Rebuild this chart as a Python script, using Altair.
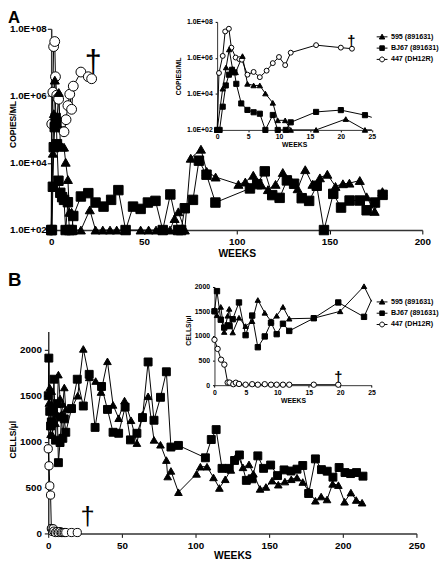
import altair as alt
import pandas as pd

FONT = "Liberation Sans"
SERIES = ["595 (891631)", "BJ67 (891631)", "447 (DH12R)"]
SHAPES = ["triangle-up", "square", "circle"]
FILLS = ["black", "black", "white"]
STROKES = ["black", "black", "black"]
LEGEND_SYMBOLS = [
    "M-1,0H1M0,-0.5L0.5,0.4L-0.5,0.4Z",
    "M-1,0H1M-0.42,-0.42H0.42V0.42H-0.42Z",
    "M-1,0H-0.45M0.45,0H1M0.45,0A0.45,0.45 0 1,1 -0.45,0A0.45,0.45 0 1,1 0.45,0Z",
]

# ---------------- Panel A: viral load (copies/ml) ----------------
a595_weeks = [0, 0.9, 1.45, 1.95, 2.5, 3.0, 4.1, 4.9, 5.9, 6.9, 7.8, 9.0, 9.8, 11.0, 11.9, 16.0, 20.8, 23.9,
              27.8, 31.7, 35.3, 40.0, 48.2, 52.5, 56.5, 60.0, 64.0, 66.5, 68.5, 72.0,
              75.2, 80.7, 83.8, 88.6,
              100.9, 104.6, 108.9, 113.3, 116.8, 120.9, 124.8, 128.8, 132.8, 136.9, 140.8, 144.8, 148.8,
              153.2, 157.2, 160.7, 166.3, 170.0, 174.3, 178.5]
a595_copies = [100, 19500, 295000, 2950000, 240000, 158000, 1260000, 36300, 29500, 29500, 10500, 3200, 340, 340, 100, 100, 400, 100,
               100, 100, 100, 100, 100, 100, 100, 100, 100, 220, 350, 100,
               13800, 25700, 5600, 3800,
               2300, 2700, 4300, 2200, 1600, 2300, 5200, 3200, 1700, 6300, 2300, 3600, 4600,
               2000, 2400, 2500, 3000, 980, 360, 1400]

aBJ_weeks = [0, 0.4, 0.9, 1.4, 1.9, 2.4, 2.8, 3.1, 3.9, 4.9, 5.9, 6.9, 7.8, 9.0, 9.8, 11.1, 11.9, 16.0, 20.0, 23.9,
             28.2, 32.3, 36.2, 40.1, 44.1, 48.2, 52.1, 56.2, 60.1, 64.2, 68.4, 70.0, 72.0, 76.4, 79.6, 83.7, 88.5,
             107.1, 111.0, 115.1, 119.1, 123.1, 127.0, 130.9, 135.0, 139.0, 143.1, 147.0, 152.0, 156.2, 160.8,
             166.3, 170.0, 174.5, 178.6]
aBJ_copies = [100, 100, 1950, 29500, 117000, 219000, 158000, 36300, 2950, 1290, 955, 794, 100, 676, 100, 100, 263, 1000, 1260, 661,
              500, 794, 1550, 100, 500, 427, 661, 741, 100, 1150, 100, 100, 447, 794, 11700, 4470, 661,
              1740, 2340, 5620, 1100, 912, 3020, 2400, 891, 741, 2090, 100, 1200, 468, 759,
              759, 389, 661, 1120]

a447_weeks = [0, 0.3, 0.9, 1.3, 1.9, 2.3, 3.0, 3.6, 4.0, 4.9, 5.9, 6.9, 8.0, 9.0, 10.0, 11.0, 11.9, 16.0, 20.0, 21.8]
a447_copies = [100, 145000, 1290000, 29500000, 41700000, 3720000, 1050000, 851000, 794000, 117000, 166000, 85100,
               195000, 513000, 1120000, 398000, 1950000, 5130000, 3720000, 3240000]

# ---------------- Panel B: CD4 cells/ul ----------------
b595_weeks = [0, 0.4, 1.0, 1.55, 2.1, 2.35, 2.9, 3.9, 4.95, 6.0, 6.9, 8.0, 9.0, 9.9, 10.9, 11.9, 15.8, 20.0, 23.8,
              27.8, 32.2, 35.8, 40.2, 44.0, 47.8, 51.8, 56.2, 60.2, 64.0, 67.8, 71.8, 76.2, 80.2, 81.1, 83.3, 88.4,
              100.7, 103.3, 107.8, 112.2, 116.2, 120.2, 124.0, 128.4, 132.2, 136.3, 139.3, 143.8, 147.8, 152.0,
              156.2, 160.7, 165.0, 168.9, 172.8, 176.8, 181.4, 185.3, 189.3, 193.1, 197.0, 201.2, 205.5, 209.1, 213.1]
b595_cells = [1530, 1420, 1590, 1080, 1410, 1550, 1070, 1370, 1200, 1300, 1730, 1470, 1300, 1410, 1590, 1350, 1360, 1500, 2010,
              1700, 1660, 1540, 1875, 1400, 1255, 1447, 1233, 984, 1291, 1494, 1019, 966, 799, 620, 681, 449,
              649, 727, 727, 610, 495, 590, 692, 860, 720, 752, 650, 485, 506, 575,
              531, 565, 590, 608, 560, 460, 356, 402, 370, 540, 526, 345, 445, 364, 335]

bBJ_weeks = [0, 0.4, 1.0, 1.55, 2.1, 2.4, 2.9, 3.9, 4.95, 6.0, 6.9, 8.0, 9.0, 9.9, 10.9, 11.9, 15.8, 19.7, 23.8,
             27.8, 31.8, 36.2, 40.2, 44.0, 47.8, 52.2, 55.8, 60.2, 64.0, 67.8, 71.8, 76.2, 80.2, 83.3, 88.4,
             106.7, 110.7, 114.0, 118.0, 122.9, 126.5, 129.8, 134.5, 138.4, 142.3, 146.2, 151.0, 155.7, 160.1,
             164.8, 168.9, 172.8, 176.8, 181.4, 185.5, 189.4, 193.3, 197.5, 201.5, 205.3, 209.3, 213.7]
bBJ_cells = [1500, 1910, 1330, 1170, 1215, 1200, 1340, 1680, 1016, 1414, 771, 990, 1268, 1036, 1248, 1102, 1360, 1680, 1388,
             1733, 1155, 1601, 1351, 1102, 1091, 1376, 1019, 1091, 1262, 1868, 1233, 1483, 1761, 941, 959,
             824, 1023, 1131, 709, 709, 795, 855, 578, 595, 845, 709, 745, 630, 692,
             680, 700, 740, 435, 812, 695, 678, 613, 718, 663, 652, 663, 624]

b447_weeks = [0, 0.5, 1.05, 1.57, 2.1, 2.4, 3.0, 3.4, 3.9, 4.95, 6.0, 6.9, 8.0, 9.0, 9.9, 10.9, 11.9, 15.8, 19.7]
b447_cells = [922, 737, 518, 418, 53, 53, 20, 50, 25, 10, 20, 10, 20, 10, 10, 10, 10, 10, 10]

# death marks (dagger) positions in data units
daggerA_main = {"week": [22.6], "value": [9.3e6]}
daggerA_inset = {"week": [21.7], "value": [9.1e6]}
daggerB_main = {"week": [26.7], "value": [182]}
daggerB_inset = {"week": [19.7], "value": [170]}

INSET_MAX_WEEK = 25


def frame(weeks, vals, name):
    return pd.DataFrame({"week": weeks, "value": vals, "series": name})


def series_frame(w595, v595, wbj, vbj, w447, v447):
    # drawing order: open circles first, then squares, triangles on top
    return pd.concat([frame(w447, v447, SERIES[2]), frame(wbj, vbj, SERIES[1]), frame(w595, v595, SERIES[0])],
                     ignore_index=True)


def inset_subset(df):
    parts_line, parts_pts = [], []
    for s in [SERIES[2], SERIES[1], SERIES[0]]:
        g = df[df.series == s].sort_values("week")
        inside = g[g.week <= INSET_MAX_WEEK]
        nxt = g[g.week > INSET_MAX_WEEK].head(1)
        parts_line.append(pd.concat([inside, nxt]))
        parts_pts.append(inside)
    return pd.concat(parts_line, ignore_index=True), pd.concat(parts_pts, ignore_index=True)


dfA = series_frame(a595_weeks, a595_copies, aBJ_weeks, aBJ_copies, a447_weeks, a447_copies)
dfB = series_frame(b595_weeks, b595_cells, bBJ_weeks, bBJ_cells, b447_weeks, b447_cells)
dfA_in_l, dfA_in_p = inset_subset(dfA)
dfB_in_l, dfB_in_p = inset_subset(dfB)

H = 558
W = 440
LOG_LABEL = "'1.0E+' + format(round(log(datum.value) / LN10), '02d')"


def panel(lines_df, pts_df, dag, *, xdom, xr, xvals, ytype, ydom, yr, yvals, ylabel_expr,
          ytitle, ytitle_x, ytitle_y, xtitle_x, xtitle_y, lab_size, xtitle_size, ytitle_size,
          tick, xpad, ypad, dom_w, sizes, dag_size, dag_weight, clamp):
    xaxis = alt.Axis(orient="bottom", offset=yr[0] - H, values=xvals, title="WEEKS", titleX=xtitle_x,
                     titleY=xtitle_y, titleAlign="center", titleBaseline="middle", titleAngle=0,
                     titleFontSize=xtitle_size, labelFontSize=lab_size, tickSize=tick, labelPadding=xpad,
                     domainWidth=dom_w, labelFlush=False, labelOverlap=False, grid=False, format="d")
    ykw = dict(orient="left", offset=-xr[0], values=yvals, title=ytitle, titleX=ytitle_x - xr[0],
               titleY=ytitle_y, titleAlign="center", titleBaseline="middle", titleAngle=270,
               titleFontSize=ytitle_size, labelFontSize=lab_size, tickSize=tick, labelPadding=ypad,
               domainWidth=dom_w, labelFlush=False, labelOverlap=False, grid=False)
    if ylabel_expr:
        ykw["labelExpr"] = ylabel_expr
    else:
        ykw["format"] = "d"
    yaxis = alt.Axis(**ykw)
    xs = alt.Scale(domain=xdom, range=xr, nice=False, zero=False, clamp=clamp)
    if ytype == "log":
        ys = alt.Scale(type="log", domain=ydom, range=yr, nice=False)
    else:
        ys = alt.Scale(domain=ydom, range=yr, nice=False, zero=False)
    x = alt.X("week:Q", scale=xs, axis=xaxis)
    y = alt.Y("value:Q", scale=ys, axis=yaxis)
    lines = alt.Chart(lines_df).mark_line(color="black", strokeWidth=1).encode(
        x=x, y=y, detail="series:N")
    pts = alt.Chart(pts_df).mark_point(filled=True, stroke="black", strokeWidth=1, opacity=1).encode(
        x=x, y=y,
        shape=alt.Shape("series:N", scale=alt.Scale(domain=SERIES, range=SHAPES), legend=None),
        fill=alt.Fill("series:N", scale=alt.Scale(domain=SERIES, range=FILLS), legend=None),
        size=alt.Size("series:N", scale=alt.Scale(domain=SERIES, range=sizes), legend=None),
    )
    dagger = alt.Chart(pd.DataFrame(dag)).mark_text(
        text="\u2020", font=FONT, fontSize=dag_size, fontWeight=dag_weight, baseline="middle",
        align="center", color="black").encode(x=x, y=y)
    return alt.layer(lines, pts, dagger)


mainA = panel(dfA, dfA, daggerA_main, xdom=[0, 200], xr=[44, 422], xvals=[0, 50, 100, 150, 200],
              ytype="log", ydom=[1e2, 1e8], yr=[221, 16], yvals=[1e2, 1e4, 1e6, 1e8], ylabel_expr=LOG_LABEL,
              ytitle="COPIES/ML", ytitle_x=5, ytitle_y=113, xtitle_x=233, xtitle_y=24,
              lab_size=10, xtitle_size=10.5, ytitle_size=8.7, tick=4, xpad=3, ypad=1, dom_w=1.5,
              sizes=[85, 100, 80], dag_size=31, dag_weight="normal", clamp=False)

insetA = panel(dfA_in_l, dfA_in_p, daggerA_inset, xdom=[0, 25], xr=[213, 370.5], xvals=[0, 5, 10, 15, 20, 25],
               ytype="log", ydom=[1e2, 1e8], yr=[119, 9], yvals=[1e2, 1e4, 1e6, 1e8], ylabel_expr=LOG_LABEL,
               ytitle="COPIES/ML", ytitle_x=174, ytitle_y=64, xtitle_x=291.5, xtitle_y=14.5,
               lab_size=7, xtitle_size=7, ytitle_size=7, tick=2, xpad=1, ypad=3, dom_w=1,
               sizes=[30, 25, 25], dag_size=15, dag_weight="bold", clamp=True)

mainB = panel(dfB, dfB, daggerB_main, xdom=[0, 250], xr=[41, 416], xvals=[0, 50, 100, 150, 200, 250],
              ytype="linear", ydom=[0, 2200], yr=[530, 324.3], yvals=[0, 500, 1000, 1500, 2000], ylabel_expr=None,
              ytitle="CELLS/\u00b5l", ytitle_x=5, ytitle_y=434, xtitle_x=228.5, xtitle_y=23,
              lab_size=10, xtitle_size=10.5, ytitle_size=8.7, tick=4, xpad=3, ypad=3, dom_w=1.5,
              sizes=[60, 70, 36], dag_size=26, dag_weight="normal", clamp=False)

insetB = panel(dfB_in_l, dfB_in_p, daggerB_inset, xdom=[0, 25], xr=[210.3, 370.3], xvals=[0, 5, 10, 15, 20, 25],
               ytype="linear", ydom=[0, 2000], yr=[379, 278.7], yvals=[0, 500, 1000, 1500, 2000], ylabel_expr=None,
               ytitle="CELLS/\u00b5l", ytitle_x=184, ytitle_y=323, xtitle_x=290.3, xtitle_y=16,
               lab_size=7, xtitle_size=7, ytitle_size=7, tick=2, xpad=1.5, ypad=3, dom_w=1,
               sizes=[30, 30, 25], dag_size=15, dag_weight="bold", clamp=True)

legend_df = pd.DataFrame({"series": SERIES})


def legend_layer(lx, ly):
    leg = alt.Legend(orient="none", legendX=lx, legendY=ly, title=None, padding=0, symbolSize=121,
                     symbolStrokeWidth=1, symbolStrokeColor="black", symbolOpacity=1,
                     labelFont=FONT, labelFontSize=7.3, labelFontWeight="bold", labelColor="black",
                     labelOffset=3, rowPadding=0.5, labelLimit=0)
    return alt.Chart(legend_df).mark_point(filled=True, strokeWidth=1, opacity=0).encode(
        shape=alt.Shape("series:N", scale=alt.Scale(domain=SERIES, range=LEGEND_SYMBOLS), legend=leg),
        fill=alt.Fill("series:N", scale=alt.Scale(domain=SERIES, range=FILLS), legend=leg),
        stroke=alt.Stroke("series:N", scale=alt.Scale(domain=SERIES, range=STROKES), legend=leg),
    )


legA = legend_layer(375, 18.2)
legB = legend_layer(375, 288.2)

panel_labels = pd.DataFrame({"label": ["A", "B"]})
labA = alt.Chart(panel_labels[panel_labels.label == "A"]).mark_text(
    font=FONT, fontSize=17, fontWeight="bold", align="left", baseline="top", color="black"
).encode(text="label:N", x=alt.value(0), y=alt.value(-3))
labB = alt.Chart(panel_labels[panel_labels.label == "B"]).mark_text(
    font=FONT, fontSize=19, fontWeight="bold", align="left", baseline="middle", color="black"
).encode(text="label:N", x=alt.value(0), y=alt.value(272))

chart = alt.layer(mainA, insetA, mainB, insetB, legA, legB, labA, labB).resolve_scale(
    x="independent", y="independent", shape="independent", fill="independent", size="independent",
    stroke="independent"
).resolve_legend(shape="independent", fill="independent", stroke="independent").properties(
    width=W, height=H, padding=0, autosize=alt.AutoSizeParams(type="none"), background="white"
).configure_view(strokeWidth=0).configure_axis(
    labelFont=FONT, titleFont=FONT, labelFontWeight="bold", titleFontWeight="bold",
    labelColor="black", titleColor="black", tickColor="black", domainColor="#333"
)

chart.save("out.html", embed_options={"renderer": "svg", "actions": False})
